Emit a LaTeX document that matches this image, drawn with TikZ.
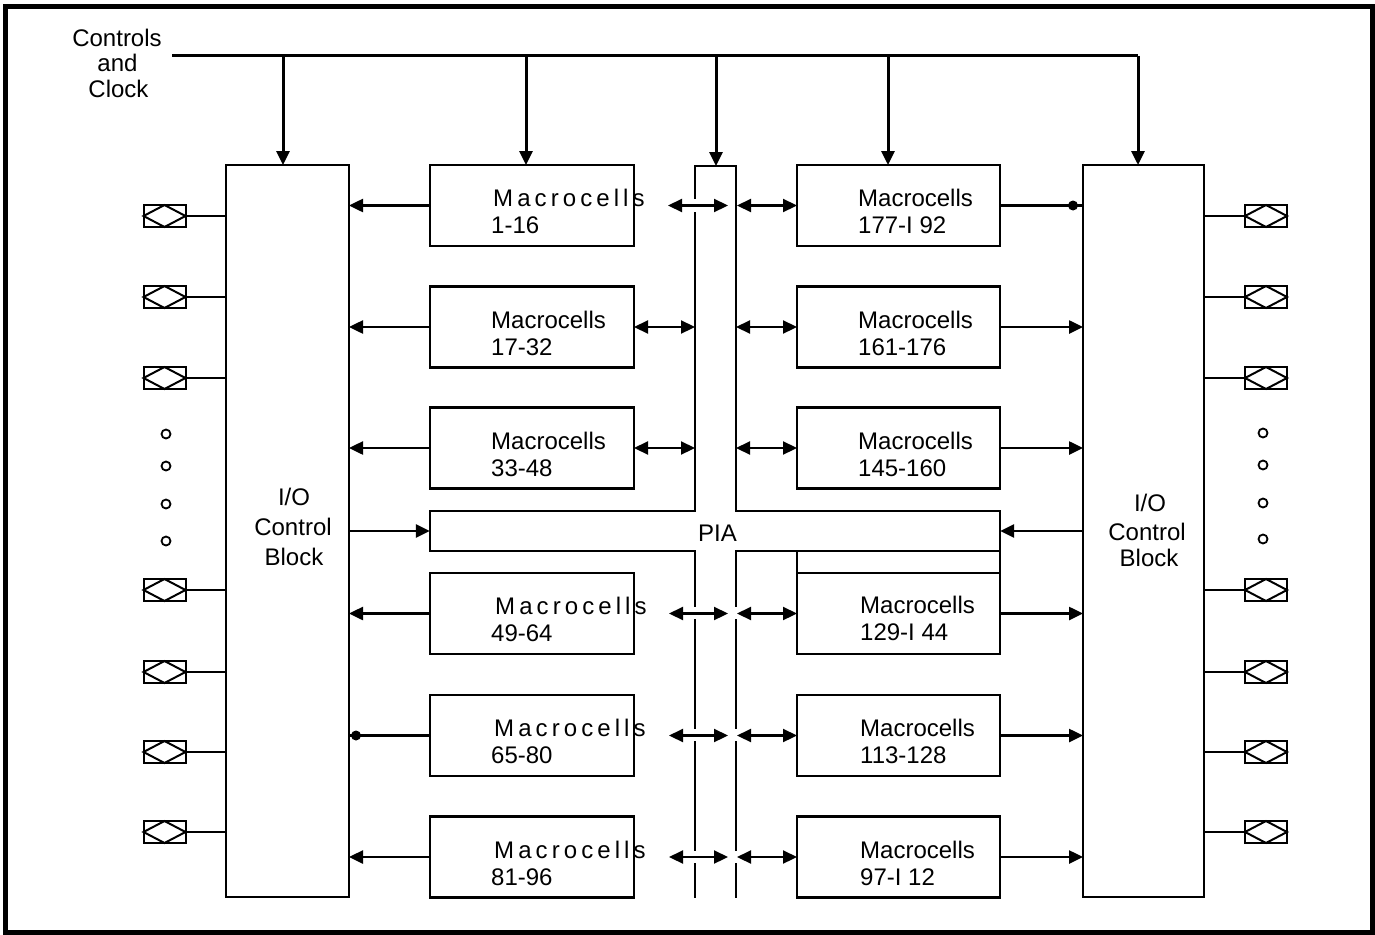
\documentclass[tikz,border=0pt]{standalone}
\usepackage{fontspec}
\setmainfont{Liberation Sans}
\usetikzlibrary{arrows.meta}
\begin{document}
\begin{tikzpicture}[x=1pt,y=-1pt,
  txt/.style={font=\fontsize{24}{26}\selectfont, inner sep=0pt},
  wtxt/.style={font=\fontsize{24}{26}\selectfont\addfontfeature{LetterSpace=17}, inner sep=0pt},
  iob/.style={draw, line width=2pt, rectangle, inner sep=0pt, outer sep=0pt, minimum width=123pt, minimum height=732pt},
  mc/.style={draw, line width=2.5pt, rectangle, inner sep=0pt, outer sep=0pt, minimum width=204pt, minimum height=81pt},
  mcr/.style={mc, minimum width=203pt},
  pin/.style={draw, line width=2pt, rectangle, inner sep=0pt, outer sep=0pt, minimum width=42pt, minimum height=22pt},
  odot/.style={draw, circle, line width=1.8pt, inner sep=0pt, minimum size=9pt},
  jdot/.style={fill, circle, inner sep=0pt, minimum size=10pt},
  tip/.tip={Triangle[length=14pt,width=13pt]},
  arr/.style={line width=2.5pt, -tip},
  darr/.style={line width=2.2pt, tip-tip},
  wire/.style={line width=1.6pt},
  hwire/.style={line width=2.5pt},
  pia/.style={line width=2pt, line cap=rect},
]
\useasboundingbox (0,0) rectangle (1375,934);
\draw[line width=5pt] (5,7) rectangle (1372,932);

% controls
\node[txt, anchor=base] (c1) at (117,47) {Controls};
\node[txt, anchor=base] (c2) at (117.5,71) {and};
\node[txt, anchor=base] (c3) at (118.5,97) {Clock};
\coordinate (busL) at (172,56);
\coordinate (busR) at (1138,56);
\draw[line width=3pt] (busL) -- (busR);

% I/O blocks
\node[iob] (IOL) at (287.5,531) {};
\node[iob, minimum width=121pt] (IOR) at (1143.5,531) {};
\node[txt, anchor=base] (iol1) at (294,505.5) {I/O};
\node[txt, anchor=base] (iol2) at (293,535.5) {Control};
\node[txt, anchor=base] (iol3) at (294,565.5) {Block};
\node[txt, anchor=base] (ior1) at (1150,511.5) {I/O};
\node[txt, anchor=base] (ior2) at (1147,540.5) {Control};
\node[txt, anchor=base] (ior3) at (1149,566.5) {Block};

% macrocells left
\node[mc] (L1) at (532,205.5) {};
\node[mc] (L2) at (532,327) {};
\node[mc] (L3) at (532,448) {};
\node[mc] (L4) at (532,613.5) {};
\node[mc] (L5) at (532,735.5) {};
\node[mc] (L6) at (532,857) {};
\node[wtxt, anchor=base west] (L1a) at (493,206.5) {Macrocells};
\node[txt, anchor=base west] (L1b) at (491,233) {1-16};
\node[txt, anchor=base west] (L2a) at (491,328) {Macrocells};
\node[txt, anchor=base west] (L2b) at (491,355) {17-32};
\node[txt, anchor=base west] (L3a) at (491,449) {Macrocells};
\node[txt, anchor=base west] (L3b) at (491,476) {33-48};
\node[wtxt, anchor=base west] (L4a) at (495,614) {Macrocells};
\node[txt, anchor=base west] (L4b) at (491,641) {49-64};
\node[wtxt, anchor=base west] (L5a) at (494,736) {Macrocells};
\node[txt, anchor=base west] (L5b) at (491,763) {65-80};
\node[wtxt, anchor=base west] (L6a) at (494,858) {Macrocells};
\node[txt, anchor=base west] (L6b) at (491,885) {81-96};

% macrocells right
\node[mcr] (R1) at (898.5,205.5) {};
\node[mcr] (R2) at (898.5,327) {};
\node[mcr] (R3) at (898.5,448) {};
\node[mcr] (R4) at (898.5,613.5) {};
\node[mcr] (R5) at (898.5,735.5) {};
\node[mcr] (R6) at (898.5,857) {};
\draw[line width=2.5pt] (R4.north west) -- ++(0,-22) -- ++(203,0) -- (R4.north east);
\node[txt, anchor=base west] (R1a) at (858,206.5) {Macrocells};
\node[txt, anchor=base west] (R1b) at (858,233) {177-I 92};
\node[txt, anchor=base west] (R2a) at (858,328) {Macrocells};
\node[txt, anchor=base west] (R2b) at (858,355) {161-176};
\node[txt, anchor=base west] (R3a) at (858,449) {Macrocells};
\node[txt, anchor=base west] (R3b) at (858,476) {145-160};
\node[txt, anchor=base west] (R4a) at (860,613) {Macrocells};
\node[txt, anchor=base west] (R4b) at (860,640) {129-I 44};
\node[txt, anchor=base west] (R5a) at (860,736) {Macrocells};
\node[txt, anchor=base west] (R5b) at (860,763) {113-128};
\node[txt, anchor=base west] (R6a) at (860,858) {Macrocells};
\node[txt, anchor=base west] (R6b) at (860,885) {97-I 12};

% PIA
\node[inner sep=0pt, minimum width=570pt, minimum height=40pt] (PIA) at (715,531) {};
\node[txt, anchor=base] (PIAt) at (717.5,541) {PIA};
\draw[pia] (695,198) -- (695,166) -- (736,166) -- (736,511) -- (1000,511) -- (1000,551) -- (736,551) -- (736,606);
\draw[pia] (736,620) -- (736,728);
\draw[pia] (736,742) -- (736,850);
\draw[pia] (736,864) -- (736,897);
\draw[pia] (695,213) -- (695,511) -- (430,511) -- (430,551) -- (695,551) -- (695,606);
\draw[pia] (695,620) -- (695,728);
\draw[pia] (695,742) -- (695,850);
\draw[pia] (695,864) -- (695,897);
\coordinate (pL) at (695,166);
\coordinate (pR) at (736,166);

% control drops
\coordinate (d1) at (283,56);
\coordinate (d2) at (526,56);
\coordinate (d3) at (716,56);
\coordinate (d4) at (888,56);
\coordinate (d5) at (1138,56);
\draw[arr, line width=3pt] (d1) -- (d1 |- IOL.north);
\draw[arr, line width=3pt] (d2) -- (d2 |- L1.north);
\draw[arr, line width=3pt] (d3) -- (d3 |- pL);
\draw[arr, line width=3pt] (d4) -- (d4 |- R1.north);
\draw[arr, line width=3pt] (d5) -- (d5 |- IOR.north);

% left block connections
\draw[arr] (L1.west) -- (L1.west -| IOL.east);
\draw[arr] (L2.west) -- (L2.west -| IOL.east);
\draw[arr] (L3.west) -- (L3.west -| IOL.east);
\draw[arr] (IOL.east |- PIA.west) -- (PIA.west);
\draw[arr] (L4.west) -- (L4.west -| IOL.east);
\draw[hwire] (L5.west) -- (L5.west -| IOL.east);
\node[jdot] (j1) at (356,735.5) {};
\draw[arr] (L6.west) -- (L6.west -| IOL.east);

% right block connections
\draw[hwire] (R1.east) -- (R1.east -| IOR.west);
\node[jdot] (j2) at (1073,205.5) {};
\draw[arr] (R2.east) -- (R2.east -| IOR.west);
\draw[arr] (R3.east) -- (R3.east -| IOR.west);
\draw[arr] (IOR.west |- PIA.east) -- (PIA.east);
\draw[arr] (R4.east) -- (R4.east -| IOR.west);
\draw[arr] (R5.east) -- (R5.east -| IOR.west);
\draw[arr] (R6.east) -- (R6.east -| IOR.west);

% PIA double arrows
\coordinate (a1l) at (668,205.5); \coordinate (a1r) at (728,205.5);
\draw[darr] (a1l) -- (a1r);
\coordinate (b1) at (737,205.5);
\draw[darr] (b1) -- (b1 -| R1.west);
\draw[darr] (L2.east) -- (L2.east -| pL);
\draw[darr] (R2.west -| pR) -- (R2.west);
\draw[darr] (L3.east) -- (L3.east -| pL);
\draw[darr] (R3.west -| pR) -- (R3.west);
\foreach \n/\y in {4/613.5,5/735.5,6/857} {
  \coordinate (a\n l) at (669,\y); \coordinate (a\n r) at (728,\y);
  \draw[darr] (a\n l) -- (a\n r);
  \coordinate (b\n) at (737,\y);
  \draw[darr] (b\n) -- (b\n -| R\n.west);
}

% pins
\foreach \y [count=\i] in {216,297,378,590,672,752,832} {
  \node[pin] (PL\i) at (164.5,\y) {};
  \draw[line width=2pt] (PL\i.west) -- (PL\i.north) -- (PL\i.east) -- (PL\i.south) -- cycle;
  \draw[wire] (PL\i.east) -- (PL\i.east -| IOL.west);
  \node[pin] (PR\i) at (1266,\y) {};
  \draw[line width=2pt] (PR\i.west) -- (PR\i.north) -- (PR\i.east) -- (PR\i.south) -- cycle;
  \draw[wire] (PR\i.west) -- (PR\i.west -| IOR.east);
}
\foreach \y [count=\i] in {434,466,504,541} {
  \node[odot] (DL\i) at (166,\y) {};
}
\foreach \y [count=\i] in {433,465,503,539} {
  \node[odot] (DR\i) at (1263,\y) {};
}
\end{tikzpicture}
\end{document}
